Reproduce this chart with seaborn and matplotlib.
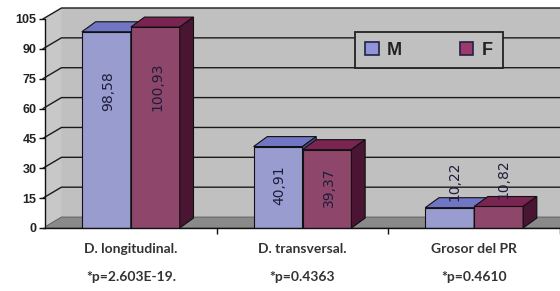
import numpy as np
import pandas as pd
import matplotlib
matplotlib.use("Agg")
import matplotlib.pyplot as plt
from matplotlib.patches import Polygon
import seaborn as sns

# data
categories = ["D. longitudinal.", "D. transversal.", "Grosor del PR"]
p_values = ["*p=2.603E-19.", "*p=0.4363", "*p=0.4610"]
m_values = [98.58, 40.91, 10.22]
f_values = [100.93, 39.37, 10.82]
m_labels = ["98,58", "40,91", "10,22"]
f_labels = ["100,93", "39,37", "10,82"]
y_ticks = [0, 15, 30, 45, 60, 75, 90, 105]

df = pd.DataFrame({
    "cat": categories * 2,
    "sexo": ["M"] * 3 + ["F"] * 3,
    "valor": m_values + f_values,
})

sns.set_style("white")
plt.rcParams["font.family"] = ["Liberation Sans", "DejaVu Sans"]

# colours: front, top, side
cols = {
    "M": ("#9094d8", "#7075c4", "#4b4f8c"),
    "F": ("#9b3a6b", "#7a2452", "#4a1433"),
}
wall_col = "#c0c0c0"
floor_col = "#8a8a8a"

fig = plt.figure(figsize=(5.6, 2.91), dpi=100)
ax = fig.add_axes([45 / 560, 63 / 291, 515 / 560, 221 / 291])
x0, x1 = -0.512, 2.59
ax.set_xlim(x0, x1)
ax.set_ylim(0, 111)

# depth of walls and bars (data units)
wdx, wdy = 0.108, 5.5
bdx, bdy = 0.08, 5.0

# back wall, side wall, floor
ax.add_patch(Polygon([(x0 + wdx, wdy), (x1, wdy), (x1, 105 + wdy), (x0 + wdx, 105 + wdy)],
                     closed=True, fc=wall_col, ec="none", zorder=0))
ax.add_patch(Polygon([(x0, 0), (x0 + wdx, wdy), (x0 + wdx, 105 + wdy), (x0, 105)],
                     closed=True, fc="#c8c8c8", ec="none", zorder=0))
ax.add_patch(Polygon([(x0, 0), (x0 + wdx, wdy), (2.5 + wdx, wdy), (2.5, 0)],
                     closed=True, fc=floor_col, ec="#555555", lw=0.6, zorder=0.5))
for v in y_ticks[1:]:
    ax.plot([x0, x0 + wdx, x1], [v, v + wdy, v + wdy], color="#1a1a1a", lw=1.0,
            zorder=0.6, clip_on=False)

sns.barplot(data=df, x="cat", y="valor", hue="sexo", order=categories,
            hue_order=["M", "F"], palette={k: c[0] for k, c in cols.items()},
            width=0.57, edgecolor="#111111", linewidth=0.8, ax=ax, legend=False)

for zi, (key, cont, labs) in enumerate(zip(["M", "F"], ax.containers, [m_labels, f_labels])):
    front, top, side = cols[key]
    for p, lab in zip(cont.patches, labs):
        p.set_zorder(3 + zi)
        x, w, h = p.get_x(), p.get_width(), p.get_height()
        ax.add_patch(Polygon([(x, h), (x + bdx, h + bdy), (x + w + bdx, h + bdy), (x + w, h)],
                             closed=True, fc=top, ec="#111111", lw=0.8, zorder=3 + zi))
        ax.add_patch(Polygon([(x + w, 0), (x + w + bdx, bdy), (x + w + bdx, h + bdy), (x + w, h)],
                             closed=True, fc=side, ec="#111111", lw=0.8, zorder=3 + zi))
        cx = x + w / 2 + 0.01
        if h > 25:
            ax.text(cx, 0.82 * h - 12, lab, rotation=90, ha="center", va="center", fontsize=10,
                    family="DejaVu Sans", color="#1c1c3c", zorder=10)
        else:
            ax.text(cx + 0.02, h + 3.5, lab, rotation=90, ha="center", va="bottom",
                    fontsize=10, family="DejaVu Sans", color="#1c1c3c", zorder=10)

# axes
for s in ["top", "right"]:
    ax.spines[s].set_visible(False)
ax.spines["left"].set_bounds(0, 105)
ax.spines["bottom"].set_bounds(x0, 2.5)
for s in ["left", "bottom"]:
    ax.spines[s].set_color("#111111")
    ax.spines[s].set_linewidth(1.0)
    ax.spines[s].set_zorder(6)

ax.set_yticks(y_ticks)
ax.set_yticklabels([str(v) for v in y_ticks], fontsize=9, fontweight="bold", color="#222222")
ax.tick_params(axis="y", length=4, width=1, pad=2, color="#111111", left=True)

ax.set_xticks(range(len(categories)))
ax.set_xticklabels([c + "\n" + p for c, p in zip(categories, p_values)],
                   fontsize=10, fontweight="bold", color="#333333", linespacing=2.55,
                   family=["Lato", "DejaVu Sans"])
ax.tick_params(axis="x", length=0, pad=11)
ax.set_xticks([0.5, 1.5, 2.5], minor=True)
ax.tick_params(axis="x", which="minor", length=4, width=1, color="#111111", bottom=True)
ax.set_xlabel("")
ax.set_ylabel("")

# legend
handles = [plt.Rectangle((0, 0), 1, 1, fc=cols[k][0], ec="#222244", lw=1.2) for k in ["M", "F"]]
leg = fig.legend(handles, ["M", "F"], loc="center", bbox_to_anchor=(429 / 560, 1 - 50 / 291),
                 ncol=2, frameon=True, fancybox=False, handlelength=0.75, handleheight=0.75,
                 handletextpad=0.45, columnspacing=3.2, borderpad=0.55, borderaxespad=0,
                 prop={"weight": "bold", "size": 13})
leg.get_frame().set_facecolor(wall_col)
leg.get_frame().set_edgecolor("#222222")
leg.get_frame().set_linewidth(1.3)
leg.get_frame().set_alpha(1)
for t in leg.get_texts():
    t.set_color("#222222")

fig.savefig("out.png", dpi=100)
